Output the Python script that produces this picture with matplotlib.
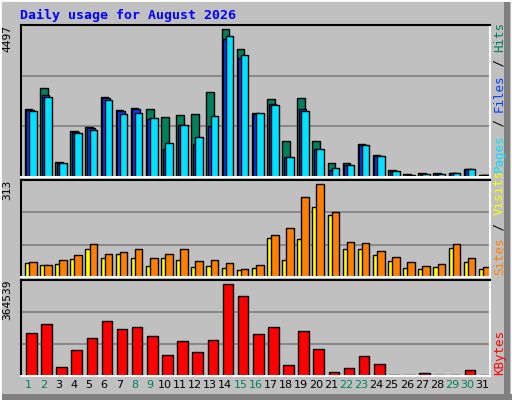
import matplotlib
matplotlib.use("Agg")
import matplotlib.pyplot as plt
from matplotlib.patches import Rectangle
import numpy as np

days = list(range(1, 32))
weekend = [1, 2, 8, 9, 15, 16, 22, 23, 29, 30]
hits = [2067, 2706, 456, 1398, 1520, 2432, 2037, 2098, 2067, 1824, 1885, 1915, 2584, 4497, 3891, 1946,
        2371, 1094, 2402, 1094, 426, 426, 1003, 669, 213, 91, 122, 122, 122, 243, 61]
files = [2037, 2493, 426, 1368, 1490, 2402, 2006, 2067, 1763, 851, 1581, 1003, 1550, 4195, 3618, 1915,
         2219, 608, 2067, 851, 213, 365, 973, 638, 182, 61, 91, 91, 122, 243, 61]
pages = [2006, 2432, 426, 1338, 1429, 2341, 1915, 1946, 1794, 1034, 1581, 1216, 1854, 4286, 3709, 1946,
         2189, 608, 2006, 851, 274, 365, 973, 638, 182, 61, 91, 91, 122, 243, 61]
visits = [52, 42, 59, 76, 110, 79, 86, 96, 65, 79, 96, 55, 59, 48, 28, 42,
          143, 165, 269, 313, 221, 120, 116, 89, 69, 52, 38, 45, 110, 65, 35]
sites = [48, 42, 45, 62, 93, 65, 79, 65, 38, 65, 59, 35, 38, 32, 25, 32,
         133, 59, 130, 235, 208, 93, 96, 76, 55, 32, 28, 35, 99, 52, 28]
kbytes = [169733, 205508, 34583, 102158, 149858, 217433, 185633, 193583, 157808, 82283, 137933, 94208,
          141908, 364539, 316808, 165758, 193583, 42533, 177683, 106133, 14708, 30608, 78308, 46508,
          3000, 3000, 10733, 3000, 3000, 22658, 3000]

BG = "#c0c0c0"
C_HITS, C_FILES, C_PAGES = "#00805c", "#0040ff", "#00e0ff"
C_SITES, C_VISITS, C_KB = "#ffff00", "#ff8000", "#ff0000"
mono = "DejaVu Sans Mono"

fig = plt.figure(figsize=(5.12, 4.0), dpi=100, facecolor=BG)
fig.patches.append(Rectangle((0, 0), 1, 1, transform=fig.transFigure, fill=False, ec="white", lw=2))
fig.patches.append(Rectangle((2/512, 0), 1 - 2/512, 6/400, transform=fig.transFigure, color="#808080", lw=0))
fig.patches.append(Rectangle((1 - 8/512, 0), 6/512, 1 - 2/400, transform=fig.transFigure, color="#808080", lw=0))

x = np.array(days, dtype=float)
L, W = 21/512, 469/512

def setup(ax, ymax):
    ax.set_facecolor(BG)
    ax.set_xlim(0.5, 31.5)
    ax.set_ylim(0, ymax)
    ax.set_xticks([]); ax.set_yticks([])
    for y in (ymax/3, 2*ymax/3):
        ax.axhline(y, color="#808080", lw=1.2, zorder=0)
    for s in ("left", "top"):
        ax.spines[s].set_color("black")
    for s in ("right", "bottom"):
        ax.spines[s].set_color("white")
    for s in ax.spines.values():
        s.set_linewidth(1.5)

ax1 = fig.add_axes([L, 0.5575, W, 0.38])
setup(ax1, 4497 * 152 / 148)
kw = dict(width=0.5, align="edge", edgecolor="black", linewidth=1)
ax1.bar(x - 0.24, hits, color=C_HITS, **kw)
ax1.bar(x - 0.14, files, color=C_FILES, **kw)
ax1.bar(x + 0.03, pages, color=C_PAGES, **kw)

ax2 = fig.add_axes([L, 0.3075, W, 0.2425])
setup(ax2, 313 * 96.7 / 92.3)
ax2.bar(x - 0.24, sites, color=C_SITES, **kw)
ax2.bar(x + 0.03, visits, color=C_VISITS, **kw)

ax3 = fig.add_axes([L, 0.06, W, 0.24])
setup(ax3, 364539 * 96 / 91.7)
ax3.bar(x - 0.17, kbytes, width=0.7, align="edge", color=C_KB, edgecolor="black", linewidth=1)

for d in days:
    ax3.text(d, -0.04, str(d), transform=ax3.get_xaxis_transform(), ha="center", va="top",
             fontsize=8, color=C_HITS if d in weekend else "black")

fig.text(20/512, 1 - 15/400, "Daily usage for August 2026", color="#0000ff", fontsize=9.5,
         fontweight="bold", family=mono, va="center", ha="left")

for ax, lab in ((ax1, "4497"), (ax2, "313"), (ax3, "364539")):
    ax.text(-0.018, 1.0, lab, transform=ax.transAxes, rotation=90, ha="right", va="top",
            fontsize=8, family=mono)

renderer = fig.canvas.get_renderer()

def right_label(ax, parts, y0_px):
    y = y0_px  # display pixels from bottom
    xpx = 493
    for txt, col in parts:
        t = fig.text(xpx / 512, y / 400, txt, rotation=90, ha="left", va="bottom",
                     fontsize=9, family=mono, color=col)
        bb = t.get_window_extent(renderer)
        y += bb.height

right_label(ax1, [("Pages", C_PAGES), (" / ", "black"), ("Files", C_FILES), (" / ", "black"), ("Hits", C_HITS)], 400 - 172)
right_label(ax2, [("Sites", C_VISITS), (" / ", "black"), ("Visits", C_SITES)], 400 - 275)
right_label(ax3, [("KBytes", C_KB)], 400 - 375)

fig.savefig("out.png", dpi=100, facecolor=BG)
